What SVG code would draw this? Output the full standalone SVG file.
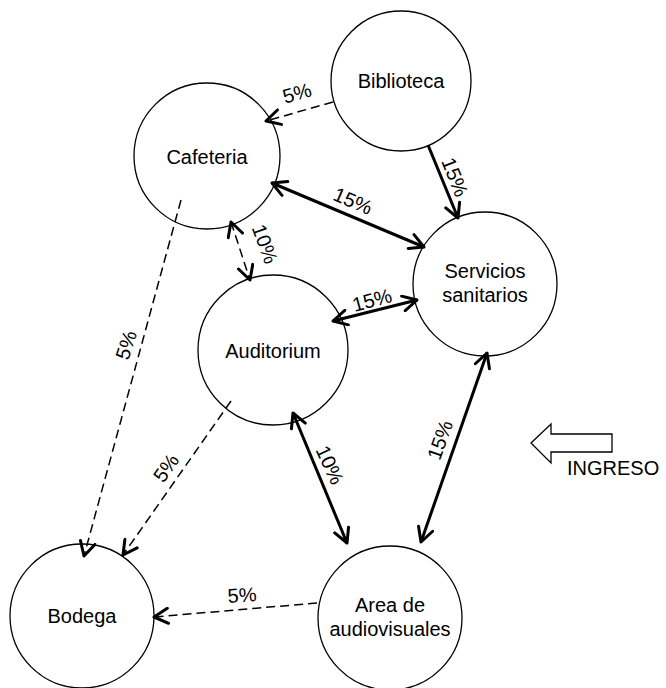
<svg xmlns="http://www.w3.org/2000/svg" width="666" height="688" viewBox="0 0 666 688">
<defs>
<marker id="a" viewBox="0 0 18 18" refX="16" refY="9" markerWidth="18" markerHeight="18" markerUnits="userSpaceOnUse" orient="auto-start-reverse">
<path d="M2,1.5 L16,9 L2,16.5" fill="none" stroke="#000" stroke-width="3" stroke-linecap="round" stroke-linejoin="round"/>
</marker>
</defs>
<style>
.n circle{fill:#fff;stroke:#000;stroke-width:1.3}
text{font-family:"Liberation Sans",Arial,sans-serif;font-size:20px;fill:#000}
.n text{text-anchor:middle}
.s{stroke:#000;stroke-width:3;fill:none}
.d{stroke:#000;stroke-width:1.5;fill:none;stroke-dasharray:9,5}
.l{text-anchor:middle}
</style>
<g id="biblioteca" class="n"><circle cx="401" cy="81" r="70"/><text x="401" y="88">Biblioteca</text></g>
<g id="cafeteria" class="n"><circle cx="207" cy="156" r="73"/><text x="207" y="164">Cafeteria</text></g>
<g id="servicios" class="n"><circle cx="485" cy="284" r="72"/><text x="485" y="278">Servicios</text><text x="485" y="302">sanitarios</text></g>
<g id="auditorium" class="n"><circle cx="273" cy="350" r="75"/><text x="273" y="358">Auditorium</text></g>
<g id="bodega" class="n"><circle cx="82" cy="616" r="72"/><text x="82" y="623">Bodega</text></g>
<g id="audiovisuales" class="n"><circle cx="390" cy="618" r="72"/><text x="390" y="612">Area de</text><text x="390" y="636">audiovisuales</text></g>
<g id="connectors">
<line class="d" x1="333" y1="102" x2="266" y2="121" marker-end="url(#a)"/>
<line class="s" x1="428" y1="145" x2="458" y2="218" marker-end="url(#a)"/>
<line class="s" x1="272" y1="183" x2="424" y2="247" marker-start="url(#a)" marker-end="url(#a)"/>
<line class="d" x1="231" y1="222" x2="250" y2="280" marker-start="url(#a)" marker-end="url(#a)"/>
<line class="s" x1="333" y1="321" x2="417" y2="300" marker-start="url(#a)" marker-end="url(#a)"/>
<line class="d" x1="181" y1="200" x2="84" y2="556" marker-end="url(#a)"/>
<line class="d" x1="231" y1="401" x2="123" y2="555" marker-end="url(#a)"/>
<line class="s" x1="293" y1="413" x2="347" y2="543" marker-start="url(#a)" marker-end="url(#a)"/>
<line class="s" x1="487" y1="353" x2="421" y2="542" marker-start="url(#a)" marker-end="url(#a)"/>
<line class="d" x1="317" y1="603" x2="154" y2="617" marker-end="url(#a)"/>
</g>
<g id="labels">
<text class="l" y="7" transform="translate(297,93) rotate(-16)">5%</text>
<text class="l" y="7" transform="translate(455,177) rotate(68)">15%</text>
<text class="l" y="7" transform="translate(353,201) rotate(23)">15%</text>
<text class="l" y="7" transform="translate(265,244) rotate(70)">10%</text>
<text class="l" y="7" transform="translate(372,300) rotate(-15)">15%</text>
<text class="l" y="7" transform="translate(126,345) rotate(-72)">5%</text>
<text class="l" y="7" transform="translate(166,468) rotate(-55)">5%</text>
<text class="l" y="7" transform="translate(330,465) rotate(65)">10%</text>
<text class="l" y="7" transform="translate(440,440) rotate(-70)">15%</text>
<text class="l" y="7" transform="translate(242,595) rotate(-4)">5%</text>
</g>
<g id="ingreso">
<path d="M531,443 L551,424 L551,434 L612,434 L612,452 L551,452 L551,463 Z" fill="#fff" stroke="#000" stroke-width="1.3"/>
<text x="567" y="475">INGRESO</text>
</g>
</svg>
